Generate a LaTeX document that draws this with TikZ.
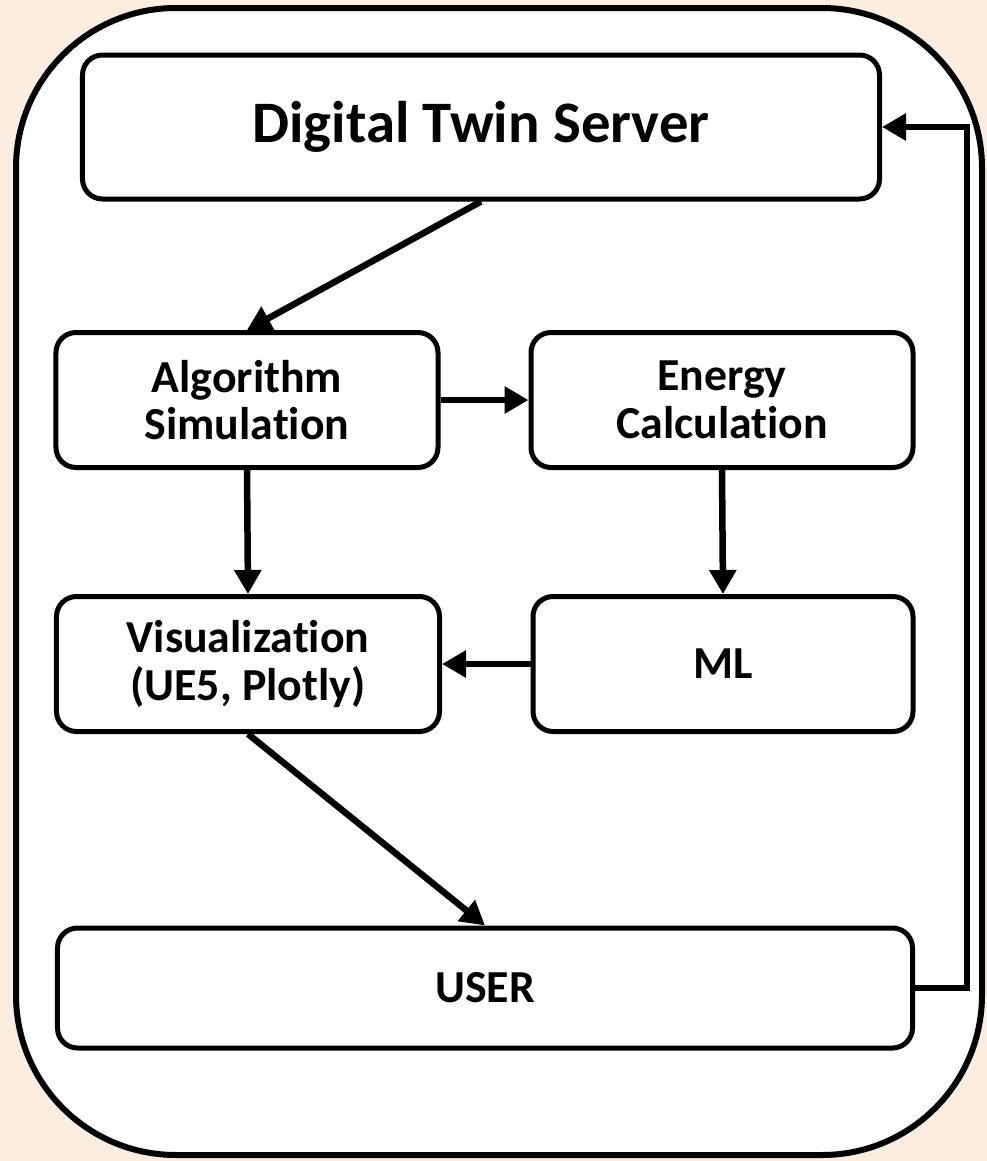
\documentclass[tikz,border=0pt]{standalone}
\usepackage{fontspec}
\setmainfont{Carlito}[Ligatures=NoCommon]
\usetikzlibrary{arrows.meta}
\definecolor{bg}{HTML}{FBEEE1}
\begin{document}
\begin{tikzpicture}[x=1bp,y=-1bp,
  box/.style={draw, line width=5bp, rounded corners=20bp, fill=white, align=center,
    font=\fontsize{46}{48}\selectfont\bfseries, inner sep=0pt},
  arr/.style={line width=6.5bp, line join=miter, -{Triangle[length=24bp,width=26bp]}}]
\useasboundingbox (0,0) rectangle (987,1161);
\fill[bg] (0,0) rectangle (987,1161);
\draw[line width=6bp, fill=white, rounded corners=160bp] (16,8) rectangle (982,1155);
\node[box, minimum width=797bp, minimum height=144bp, font=\fontsize{59}{62}\selectfont\bfseries] (dts) at (481,127) {Digital Twin Server};
\node[box, minimum width=382bp, minimum height=135bp] (alg) at (247,400) {Algorithm\\Simulation};
\node[box, minimum width=382bp, minimum height=135bp] (en) at (722,400) {Energy\\Calculation};
\node[box, minimum width=383bp, minimum height=135bp] (vis) at (248,664) {Visualization\\(UE5, Plotly)};
\node[box, minimum width=380bp, minimum height=135bp] (ml) at (723,664) {ML};
\node[box, minimum width=855bp, minimum height=120bp] (user) at (485,988) {USER};
\coordinate (fb) at (967,988);
\draw[arr] (dts.south) -- (alg.north);
\draw[arr] (alg.east) -- (en.west);
\draw[arr] (alg.south) -- (vis.north);
\draw[arr] (en.south) -- (ml.north);
\draw[arr] (ml.west) -- (vis.east);
\draw[arr] (vis.south) -- (user.north);
\draw[arr] (user.east) -- (fb) |- (dts.east);
\end{tikzpicture}
\end{document}
